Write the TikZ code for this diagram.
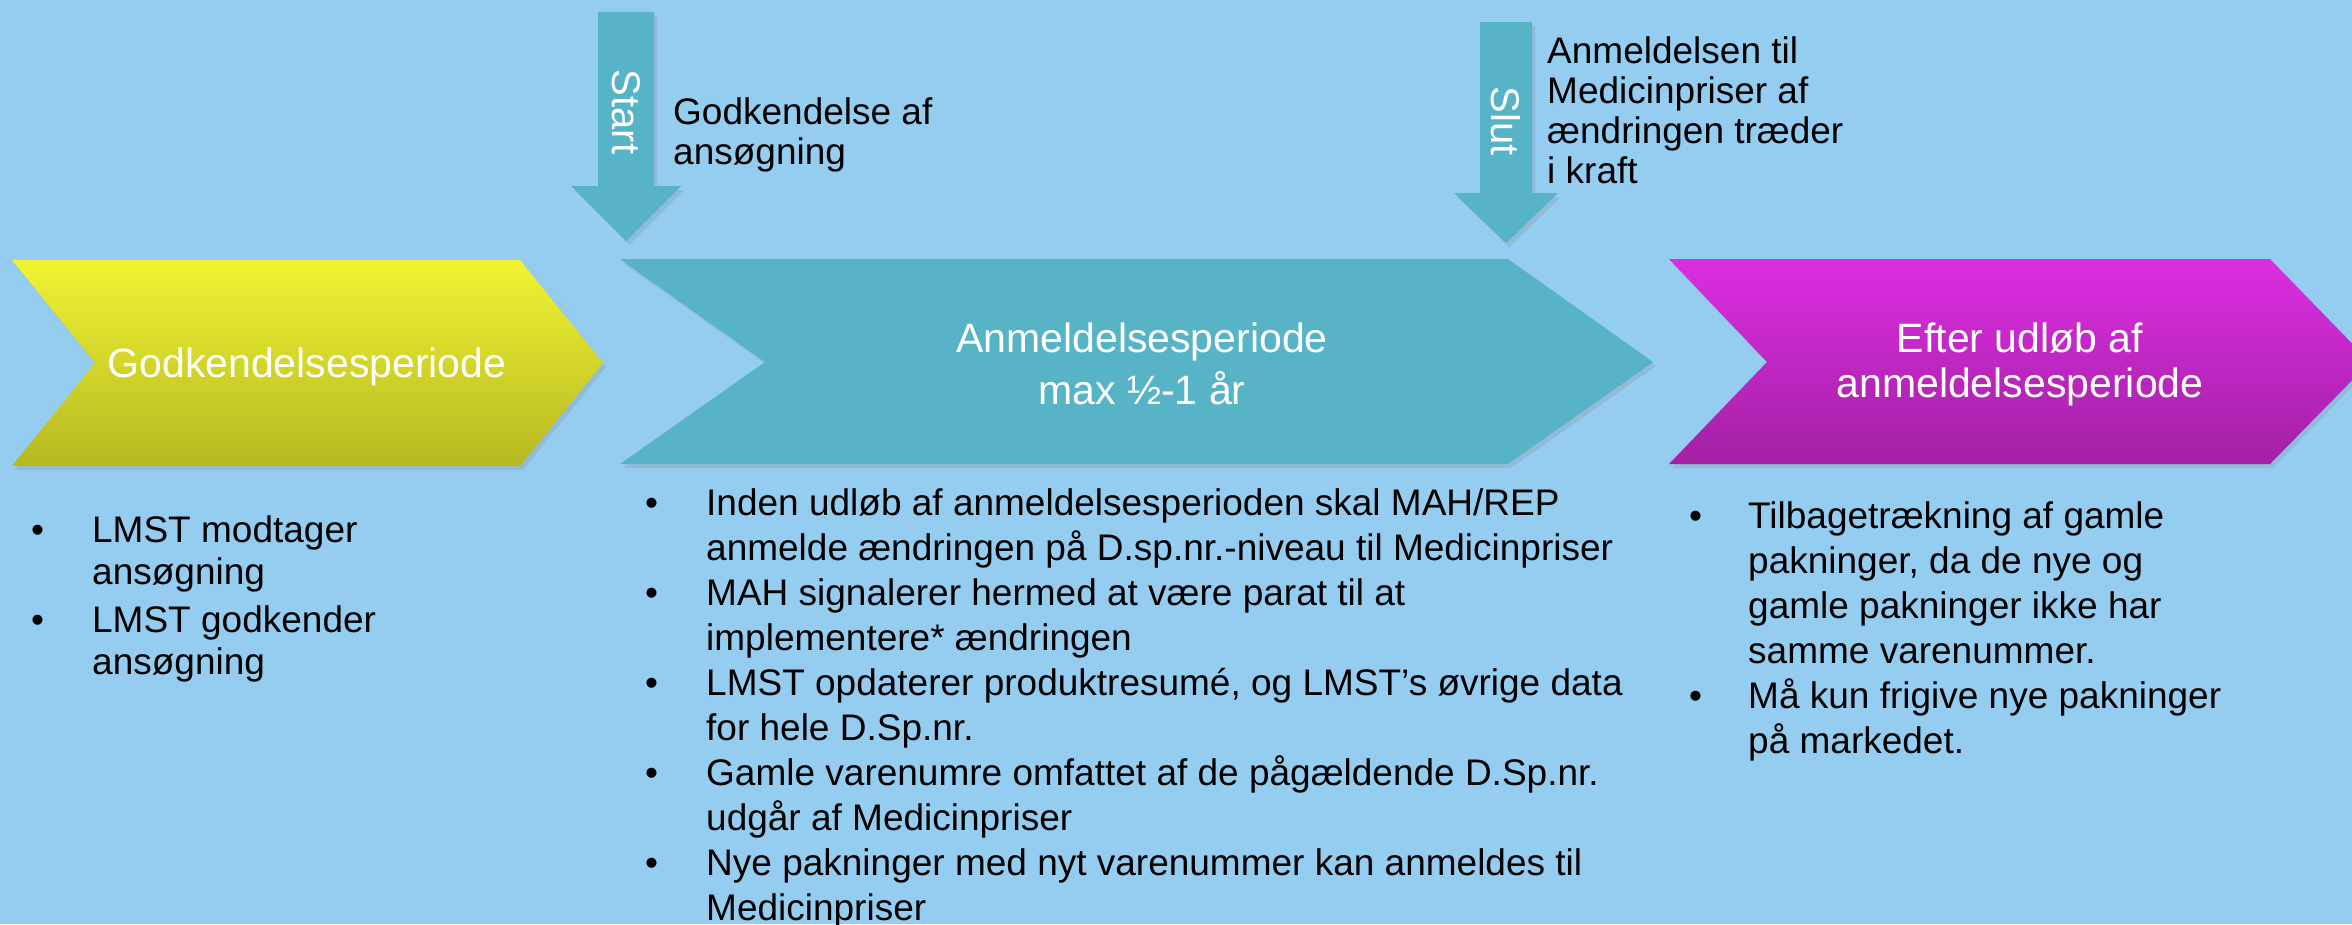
\documentclass[tikz,border=0pt]{standalone}
\usepackage{fontspec}
\setmainfont{Liberation Sans}
\usetikzlibrary{shadows}

\definecolor{bgblue}{RGB}{149,205,241}
\definecolor{tealchev}{RGB}{87,180,199}
\definecolor{yeltop}{RGB}{241,243,50}
\definecolor{yelbot}{RGB}{182,184,34}
\definecolor{magtop}{RGB}{219,46,225}
\definecolor{magbot}{RGB}{163,32,164}

\tikzset{
    chevshadow/.style={drop shadow={shadow xshift=3pt,shadow yshift=-4pt,opacity=.22}},
    headtxt/.style={text=white,inner sep=0pt,anchor=base,font=\fontsize{41}{52}\selectfont},
    sidetxt/.style={inner sep=0pt,anchor=base west,font=\fontsize{37}{40}\selectfont},
    listtxt/.style={inner sep=0pt,anchor=base west,font=\fontsize{37}{45}\selectfont},
    vertxt/.style={text=white,inner sep=0pt,rotate=-90,font=\fontsize{40}{40}\selectfont}
}

\begin{document}
\begin{tikzpicture}[x=1pt,y=-1pt]
        \fill[bgblue] (0,0) rectangle (2352,924);
        \clip (0,0) rectangle (2352,924);

        % start arrow
        \fill[tealchev,chevshadow] (598,12) -- (654,12) -- (654,186) -- (681,186)
            -- (626,241) -- (571,186) -- (598,186) -- cycle;
        \node[vertxt] (start) at (626,112) {Start};
        \node[sidetxt] (startlbl) at (673,124) {\begin{tabular}[t]{@{}l@{}}
            Godkendelse af\\ansøgning\end{tabular}};

        % slut arrow
        \fill[tealchev,chevshadow] (1480,22) -- (1532,22) -- (1532,193) -- (1558,193)
            -- (1506,243) -- (1454,193) -- (1480,193) -- cycle;
        \node[vertxt] (slut) at (1506,121) {Slut};
        \node[sidetxt] (slutlbl) at (1547,63) {\begin{tabular}[t]{@{}l@{}}
            Anmeldelsen til\\Medicinpriser af\\ændringen træder\\i kraft\end{tabular}};

        % godkendelse
        \shade[top color=yeltop,bottom color=yelbot,chevshadow] (12,260) -- (520,260)
            -- (603,363) -- (520,466) -- (12,466) -- (95,363) -- cycle;
        \node[headtxt] (godk) at (307,377) {Godkendelsesperiode};
        \node[listtxt,font=\fontsize{37}{42}\selectfont] (godklist) at (31,542) {%
            \begin{tabular}[t]{@{}p{61pt}@{}l@{}}
            \textbullet & LMST modtager\\ & ansøgning\\[6pt]
            \textbullet & LMST godkender\\ & ansøgning
            \end{tabular}};

        % anmeldelse
        \fill[tealchev,chevshadow] (620,259) -- (1508,259) -- (1653,362) -- (1508,464)
            -- (620,464) -- (765,362) -- cycle;
        \node[headtxt] (anm) at (1142,352) {\begin{tabular}[t]{@{}c@{}}
            Anmeldelsesperiode\\max ½-1 år\end{tabular}};
        \node[listtxt] (anmlist) at (645,515) {%
            \begin{tabular}[t]{@{}p{61pt}@{}l@{}}
            \textbullet & Inden udløb af anmeldelsesperioden skal MAH/REP\\
                        & anmelde ændringen på D.sp.nr.-niveau til Medicinpriser\\
            \textbullet & MAH signalerer hermed at være parat til at\\
                        & implementere* ændringen\\
            \textbullet & LMST opdaterer produktresumé, og LMST’s øvrige data\\
                        & for hele D.Sp.nr.\\
            \textbullet & Gamle varenumre omfattet af de pågældende D.Sp.nr.\\
                        & udgår af Medicinpriser\\
            \textbullet & Nye pakninger med nyt varenummer kan anmeldes til\\
                        & Medicinpriser
            \end{tabular}};

        % efter udloeb
        \shade[top color=magtop,bottom color=magbot,chevshadow] (1669,259) -- (2270,259)
            -- (2370,362) -- (2270,464) -- (1669,464) -- (1767,362) -- cycle;
        \node[headtxt,font=\fontsize{41}{45}\selectfont] (efter) at (2020,352) {%
            \begin{tabular}[t]{@{}c@{}}Efter udløb af\\anmeldelsesperiode\end{tabular}};
        \node[listtxt] (efterlist) at (1689,528) {%
            \begin{tabular}[t]{@{}p{59pt}@{}l@{}}
            \textbullet & Tilbagetrækning af gamle\\ & pakninger, da de nye og\\
                        & gamle pakninger ikke har\\ & samme varenummer.\\
            \textbullet & Må kun frigive nye pakninger\\ & på markedet.
            \end{tabular}};
    \end{tikzpicture}
\end{document}
